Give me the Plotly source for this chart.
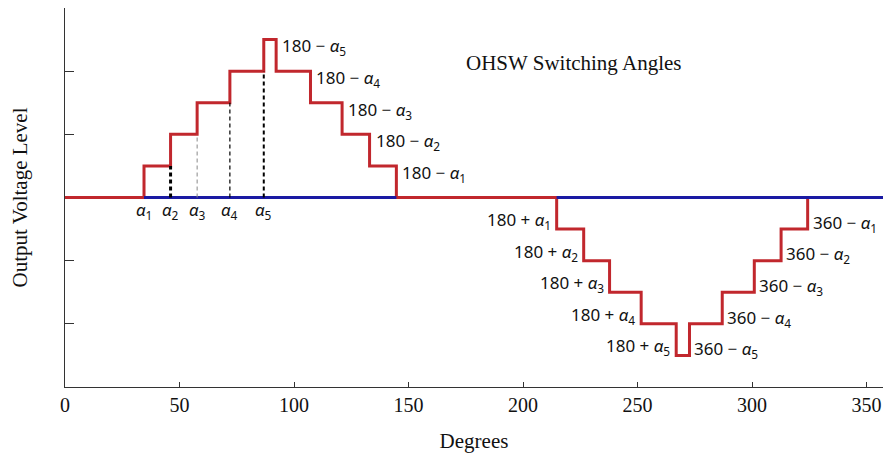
import plotly.graph_objects as go

# Switching angles (degrees)
rise_pos = [34.5, 46.1, 57.7, 72.0, 86.8]          # alpha1..alpha5
fall_pos = [92.2, 107.2, 121.0, 133.0, 144.7]      # 180-a5 .. 180-a1
fall_neg = [214.7, 226.5, 237.8, 251.6, 266.9]     # 180+a1 .. 180+a5
rise_neg = [272.7, 287.0, 301.0, 312.7, 324.3]     # 360-a5 .. 360-a1
x_end = 357.2

lv_rise_pos = [1, 2, 3, 4, 5]
lv_fall_pos = [4, 3, 2, 1, 0]
lv_fall_neg = [-1, -2, -3, -4, -5]
lv_rise_neg = [-4, -3, -2, -1, 0]

alpha_labels = ["<i>α</i><sub>1</sub>", "<i>α</i><sub>2</sub>", "<i>α</i><sub>3</sub>",
                "<i>α</i><sub>4</sub>", "<i>α</i><sub>5</sub>"]
fall_pos_labels = ["180 − <i>α</i><sub>5</sub>", "180 − <i>α</i><sub>4</sub>", "180 − <i>α</i><sub>3</sub>",
                   "180 − <i>α</i><sub>2</sub>", "180 − <i>α</i><sub>1</sub>"]
fall_neg_labels = ["180 + <i>α</i><sub>1</sub>", "180 + <i>α</i><sub>2</sub>", "180 + <i>α</i><sub>3</sub>",
                   "180 + <i>α</i><sub>4</sub>", "180 + <i>α</i><sub>5</sub>"]
rise_neg_labels = ["360 − <i>α</i><sub>5</sub>", "360 − <i>α</i><sub>4</sub>", "360 − <i>α</i><sub>3</sub>",
                   "360 − <i>α</i><sub>2</sub>", "360 − <i>α</i><sub>1</sub>"]

x_ticks = [0, 50, 100, 150, 200, 250, 300, 350]
y_ticks = [-4, -2, 2, 4, 6]

RED = "#c1272d"
BLUE = "#1a1aa3"
MATH_FONT = dict(family="Noto Sans, DejaVu Sans", size=17, color="#111")

fig = go.Figure()

xs = [0] + rise_pos + fall_pos + fall_neg + rise_neg + [x_end]
ys = [0] + lv_rise_pos + lv_fall_pos + lv_fall_neg + lv_rise_neg + [0]
fig.add_trace(go.Scatter(x=xs, y=ys, mode="lines", line=dict(color=RED, width=3, shape="hv"),
                         hoverinfo="skip", showlegend=False))

# blue zero reference segments
fig.add_trace(go.Scatter(x=[rise_pos[0], fall_pos[-1], None, fall_neg[0], x_end],
                         y=[0, 0, None, 0, 0], mode="lines",
                         line=dict(color=BLUE, width=3), hoverinfo="skip", showlegend=False))

# dashed guides from zero up to previous level
dash_styles = [dict(color="black", width=3), dict(color="#888", width=1),
               dict(color="black", width=1.2), dict(color="black", width=2)]
for i in range(1, 5):
    st = dict(dash_styles[i - 1]); st["dash"] = "4px,3px"
    fig.add_trace(go.Scatter(x=[rise_pos[i], rise_pos[i]], y=[0, lv_rise_pos[i - 1]],
                             mode="lines", line=st, hoverinfo="skip", showlegend=False))

ann = []
for x, t in zip(rise_pos, alpha_labels):
    ann.append(dict(x=x, y=-0.40, text=t, showarrow=False, xanchor="center", yanchor="middle", font=MATH_FONT))
for x, lv, t in zip(fall_pos, lv_fall_pos, fall_pos_labels):
    ann.append(dict(x=x, y=lv + 0.77, text=t, showarrow=False, xanchor="left", yanchor="middle",
                    xshift=4, font=MATH_FONT))
for x, lv, t in zip(fall_neg, lv_fall_neg, fall_neg_labels):
    ann.append(dict(x=x, y=lv + 0.27, text=t, showarrow=False, xanchor="right", yanchor="middle",
                    xshift=-4, font=MATH_FONT))
for x, lv, t in zip(rise_neg, lv_rise_neg, rise_neg_labels):
    ann.append(dict(x=x, y=lv - 0.82, text=t, showarrow=False, xanchor="left", yanchor="middle",
                    xshift=3, font=MATH_FONT))
ann.append(dict(x=0.622, y=0.855, xref="paper", yref="paper", text="OHSW Switching Angles",
                showarrow=False, xanchor="center", yanchor="middle",
                font=dict(family="Liberation Serif", size=21, color="#111")))

fig.update_layout(
    width=883, height=460,
    margin=dict(l=65, r=0, t=8, b=73),
    paper_bgcolor="white", plot_bgcolor="white",
    annotations=ann,
    font=dict(family="Liberation Serif", color="#111"),
    xaxis=dict(range=[0, x_end], tickvals=x_ticks, ticktext=[str(v) for v in x_ticks],
               ticks="inside", ticklen=5, tickcolor="#333", showgrid=False, zeroline=False,
               showline=True, linecolor="#333", linewidth=1,
               tickfont=dict(family="Liberation Serif", size=20, color="#111"),
               title=dict(text="Degrees", font=dict(family="Liberation Serif", size=21, color="#111"),
                          standoff=18)),
    yaxis=dict(range=[-6, 6], tickvals=y_ticks, showticklabels=False,
               ticks="inside", ticklen=9, tickcolor="#333", showgrid=False, zeroline=False,
               showline=True, linecolor="#333", linewidth=1,
               title=dict(text="Output Voltage Level",
                          font=dict(family="Liberation Serif", size=21, color="#111"), standoff=30)),
)

fig.write_html("out.html")
